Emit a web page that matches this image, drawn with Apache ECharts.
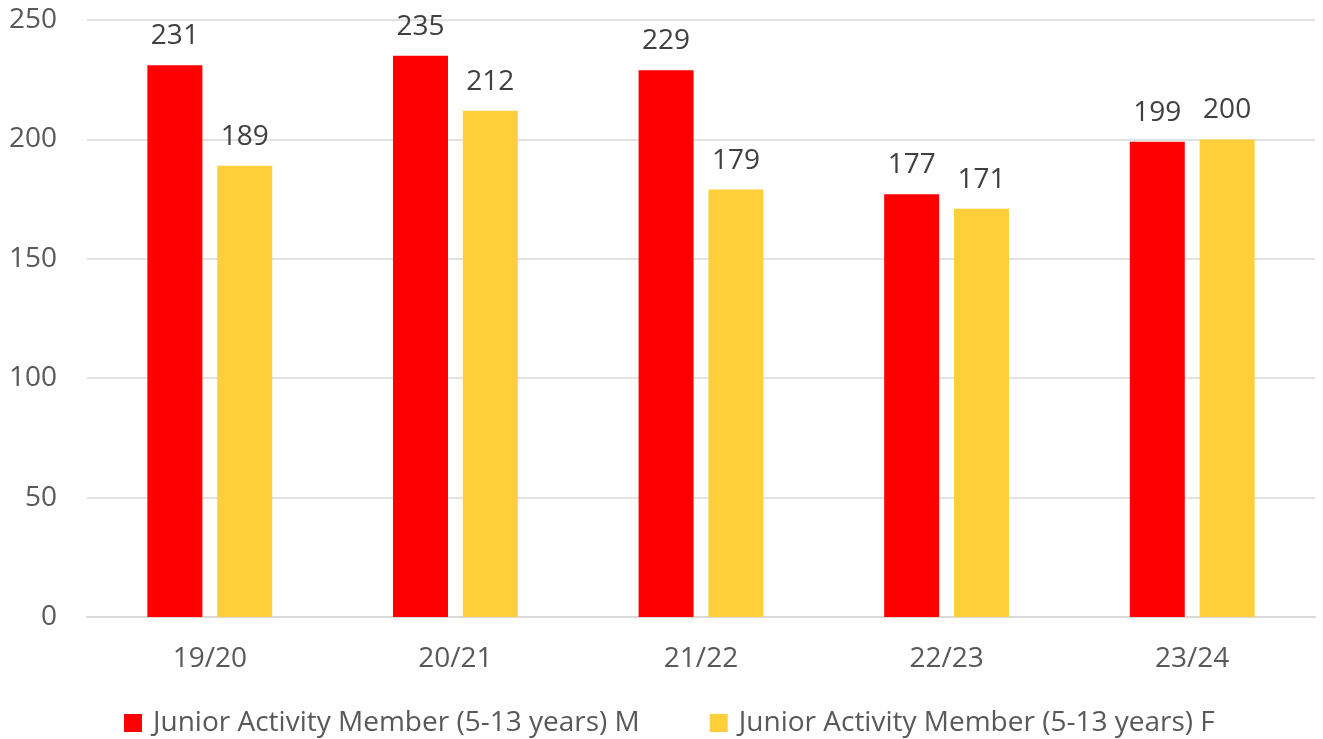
<!DOCTYPE html>
<html><head><meta charset="utf-8">
<script src="https://cdn.jsdelivr.net/npm/echarts@6/dist/echarts.min.js"></script>
<style>html,body{margin:0;padding:0;background:#fff}#c{width:1323px;height:739px}</style>
</head><body><div id="c"></div>
<script>
const categories = ['19/20', '20/21', '21/22', '22/23', '23/24'];
const seriesNames = ['Junior Activity Member (5-13 years) M', 'Junior Activity Member (5-13 years) F'];
const maleValues = [231, 235, 229, 177, 199];
const femaleValues = [189, 212, 179, 171, 200];
const yTicks = { min: 0, max: 250, interval: 50 };

const FONT = 'Open Sans';
const chart = echarts.init(document.getElementById('c'), null, { renderer: 'canvas' });
chart.setOption({
  animation: false,
  textStyle: { fontFamily: FONT },
  grid: { left: 87, right: 8, top: 20, bottom: 122, containLabel: false },
  legend: {
    top: 704, left: 119, itemWidth: 18, itemHeight: 18, itemGap: 70,
    icon: 'rect',
    textStyle: { fontFamily: FONT, fontSize: 28, color: '#595959', padding: [0, 0, 0, 6] },
    data: seriesNames
  },
  xAxis: {
    type: 'category', data: categories,
    axisLine: { lineStyle: { color: '#d9d9d9', width: 2 } },
    axisTick: { show: false },
    axisLabel: { fontFamily: FONT, fontSize: 28, color: '#595959', margin: 28 }
  },
  yAxis: {
    type: 'value', min: yTicks.min, max: yTicks.max, interval: yTicks.interval,
    axisLine: { show: false }, axisTick: { show: false },
    splitLine: { lineStyle: { color: '#d9d9d9', width: 1.5 } },
    axisLabel: { fontFamily: FONT, fontSize: 28, color: '#595959', margin: 30 }
  },
  series: [
    { name: seriesNames[0], type: 'bar', data: maleValues, barWidth: 55, barGap: '27%',
      itemStyle: { color: '#FF0000' },
      label: { show: true, position: 'top', distance: 15, fontFamily: FONT, fontSize: 28, color: '#404040' } },
    { name: seriesNames[1], type: 'bar', data: femaleValues, barWidth: 55,
      itemStyle: { color: '#FFCF39' },
      label: { show: true, position: 'top', distance: 15, fontFamily: FONT, fontSize: 28, color: '#404040' } }
  ]
});
</script></body></html>
